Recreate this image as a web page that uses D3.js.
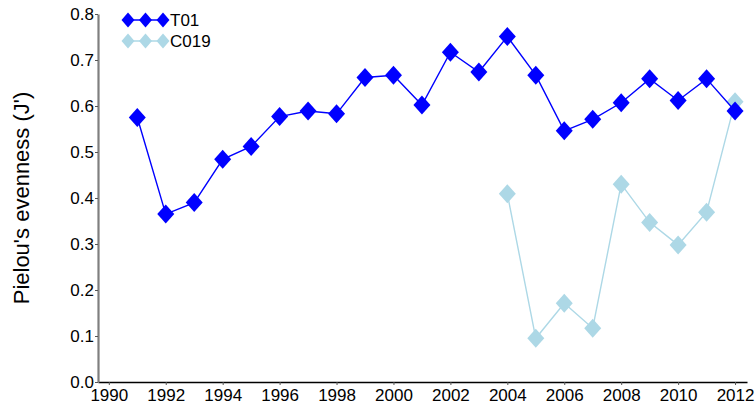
<!DOCTYPE html>
<meta charset="utf-8">
<head>
<script src="https://d3js.org/d3.v7.min.js"></script>
<style>
  body { margin: 0; background: #fff; }
  text { font-family: "Liberation Sans", Arial, sans-serif; }
</style>
</head>
<body>
<svg id="chart" width="756" height="412"></svg>
<script>
// years and Pielou's evenness values
var yearsT01 = [1991, 1992, 1993, 1994, 1995, 1996, 1997, 1998, 1999, 2000, 2001,
                2002, 2003, 2004, 2005, 2006, 2007, 2008, 2009, 2010, 2011, 2012];
var valuesT01 = [0.575, 0.365, 0.390, 0.484, 0.512, 0.577, 0.589, 0.583, 0.662, 0.667, 0.602,
                 0.717, 0.674, 0.751, 0.667, 0.546, 0.571, 0.607, 0.659, 0.612, 0.659, 0.589];
var yearsC019 = [2004, 2005, 2006, 2007, 2008, 2009, 2010, 2011, 2012];
var valuesC019 = [0.409, 0.095, 0.171, 0.117, 0.430, 0.347, 0.298, 0.369, 0.609];

var xTicks = [1990, 1992, 1994, 1996, 1998, 2000, 2002, 2004, 2006, 2008, 2010, 2012];
var yTicks = [0.0, 0.1, 0.2, 0.3, 0.4, 0.5, 0.6, 0.7, 0.8];
var seriesNames = ["T01", "C019"];
var seriesColors = ["#0000ff", "#add8e6"];

var svg = d3.select("#chart");

// plot area (named to avoid clashing with window.top)
var plotL = 98, plotR = 747, plotT = 14, plotB = 382;

var x = d3.scaleLinear()
  .domain([1989.62, 2012.42])
  .range([plotL, plotR]);

var y = d3.scaleLinear()
  .domain([0, 0.8])
  .range([plotB, plotT]);

// diamond shape, slightly taller than wide
function diamond(hw, hh) {
  return "M0," + (-hh) + "L" + hw + ",0L0," + hh + "L" + (-hw) + ",0Z";
}

// x axis
var xAxis = svg.append("g")
  .attr("transform", "translate(0," + plotB + ")")
  .call(d3.axisBottom(x).tickValues(xTicks).tickFormat(d3.format("d"))
        .tickSizeInner(3).tickSizeOuter(0).tickPadding(4));
xAxis.select(".domain").attr("stroke", "#000").attr("stroke-width", 1.3);
xAxis.selectAll(".tick line").attr("stroke", "#555");
xAxis.selectAll("text").attr("font-size", 17).attr("fill", "#000")
  .attr("font-family", "Liberation Sans, Arial, sans-serif");

// y axis
var yAxis = svg.append("g")
  .attr("transform", "translate(" + plotL + ",0)")
  .call(d3.axisLeft(y).tickValues(yTicks).tickFormat(d3.format(".1f"))
        .tickSizeInner(3).tickSizeOuter(0).tickPadding(1));
yAxis.select(".domain").attr("stroke", "#7f7f7f").attr("stroke-width", 2.2);
yAxis.selectAll(".tick line").attr("stroke", "#555");
yAxis.selectAll("text").attr("font-size", 17).attr("fill", "#000")
  .attr("font-family", "Liberation Sans, Arial, sans-serif");

// y label
svg.append("text")
  .attr("transform", "translate(29," + ((plotT + plotB) / 2) + ") rotate(-90)")
  .attr("text-anchor", "middle")
  .attr("font-size", 22)
  .attr("fill", "#000")
  .text("Pielou's evenness (J')");

var line = d3.line()
  .x(function(d) { return x(d[0]); })
  .y(function(d) { return y(d[1]); });

// draw C019 first so T01 sits on top
var series = [
  { years: yearsC019, values: valuesC019, color: seriesColors[1] },
  { years: yearsT01, values: valuesT01, color: seriesColors[0] }
];

series.forEach(function(s) {
  var pts = d3.zip(s.years, s.values);
  svg.append("path")
    .datum(pts)
    .attr("fill", "none")
    .attr("stroke", s.color)
    .attr("stroke-width", 1.4)
    .attr("d", line);
  svg.append("g")
    .selectAll("path")
    .data(pts)
    .enter().append("path")
    .attr("transform", function(d) { return "translate(" + x(d[0]) + "," + y(d[1]) + ")"; })
    .attr("d", diamond(8.5, 9.5))
    .attr("fill", s.color);
});

// legend
var legend = svg.append("g").attr("transform", "translate(128,20)");
seriesNames.forEach(function(name, i) {
  var row = legend.append("g").attr("transform", "translate(0," + (i * 21) + ")");
  row.append("line")
    .attr("x1", 0).attr("x2", 35)
    .attr("stroke", seriesColors[i]).attr("stroke-width", 1.4);
  [0, 17.5, 35].forEach(function(cx) {
    row.append("path")
      .attr("transform", "translate(" + cx + ",0)")
      .attr("d", diamond(6.5, 7.5))
      .attr("fill", seriesColors[i]);
  });
  row.append("text")
    .attr("x", 42).attr("y", 6)
    .attr("font-size", 17)
    .attr("fill", "#000")
    .text(name);
});
</script>
</body>
